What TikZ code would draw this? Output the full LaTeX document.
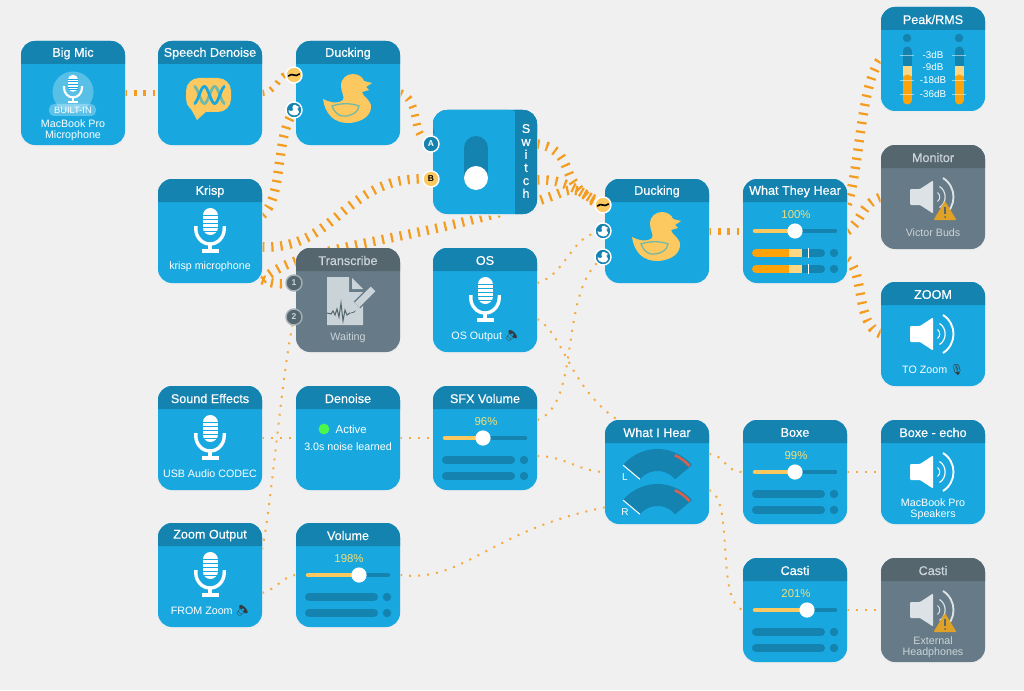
\documentclass[tikz,border=0pt]{standalone}
\usepackage{fontspec}
\setmainfont{Liberation Sans}
\newfontfamily\emojifont{Noto Emoji}
\newfontfamily\titlefont[FakeBold=0.5]{Liberation Sans}
\usetikzlibrary{calc}
\definecolor{pagebg}{HTML}{F0F0F0}
\definecolor{blueBody}{HTML}{18A8DF}
\definecolor{blueHead}{HTML}{1583B0}
\definecolor{greyBody}{HTML}{667B87}
\definecolor{greyHead}{HTML}{55666F}
\definecolor{tick}{HTML}{F39C1F}
\definecolor{yel}{HTML}{FBC95F}
\definecolor{pct}{HTML}{F3DE7A}
\definecolor{wingc}{HTML}{74B8A6}
\definecolor{orng}{HTML}{FFA30A}
\definecolor{lyel}{HTML}{FCD784}
\definecolor{greyIcon}{HTML}{DCE2E5}
\definecolor{greyText}{HTML}{CCD4D9}
\definecolor{warnc}{HTML}{DFA126}
\definecolor{gaugered}{HTML}{D9604C}
\pgfdeclarelayer{bglayer}
\pgfdeclarelayer{linklayer}
\pgfsetlayers{bglayer,linklayer,main}
\tikzset{
  cardbody/.style={shape=rectangle,minimum size=104pt,inner sep=0pt,rounded corners=14pt},
  bluetitle/.style={text=white,font=\titlefont\fontsize{12.6}{15}\selectfont,inner sep=0pt,anchor=center},
  greytitle/.style={bluetitle,text=greyText},
  lab/.style={text=white,font=\fontsize{10.7}{11}\selectfont,inner sep=0pt,align=center,anchor=center},
  greylab/.style={lab,text=greyText},
  pctlab/.style={lab,text=pct,font=\fontsize{11.4}{12}\selectfont},
  portnode/.style={shape=circle,minimum size=16pt,inner sep=0pt,draw=white,line width=1.4pt,font=\bfseries\fontsize{8.5}{9}\selectfont},
  thicklink/.style={draw=tick,line width=9.5pt,dash pattern=on 2.2pt off 6.9pt},
  midlink/.style={draw=tick,line width=6pt,dash pattern=on 2.2pt off 6.9pt},
  dotlink/.style={draw=tick!85!white,line width=2pt,dash pattern=on 2pt off 7pt},
  barline/.style={line width=8pt,line cap=round,draw=blueHead}
}
% name x y title kind(blue/grey) content
\newcommand{\card}[6]{%
  \fill[black!7,rounded corners=14pt] (#2-0.5,#3+1) rectangle (#2+104.5,#3+105.5);
  \node[cardbody,fill=#5Body] (#1) at (#2+52,#3+52) {};
  \fill[#5Head] (#2,#3+23) [rounded corners=14pt] -- (#2,#3) -- (#2+104,#3) [sharp corners] -- (#2+104,#3+23) -- cycle;
  \node[#5title] (#1-title) at (#2+52,#3+12.5) {#4};
  \begin{scope}[shift={(#2,#3)}]#6\end{scope}%
}
\newcommand{\mic}[4]{% cx cy scale stripe
  \begin{scope}[shift={(#1,#2)},scale=#3]
    \draw[white,line width=15pt*#3,line cap=round] (0,-13.5) -- (0,-1.5);
    \foreach \yy in {-14,-10,-6,-2,2} {\draw[#4,line width=0.7pt*#3] (-7.5,\yy) -- (7.5,\yy);}
    \draw[white,line width=3.4pt*#3] (-14.2,-3) -- (-14.2,0) .. controls (-14.2,8) and (-8,15) .. (0,15) .. controls (8,15) and (14.2,8) .. (14.2,0) -- (14.2,-3);
    \draw[white,line width=3.4pt*#3] (0,14) -- (0,21);
    \draw[white,line width=3.4pt*#3] (-8.5,22) -- (8.5,22);
  \end{scope}}
\newcommand{\speaker}[3]{% cx cy colour
  \begin{scope}[shift={(#1,#2)}]
    \fill[#3,rounded corners=1pt] (-23,-8) -- (-13,-8) -- (0,-16.5) -- (0,16.5) -- (-13,8) -- (-23,8) -- cycle;
    \draw[#3,line width=1.9pt] (10,-19) .. controls (24,-10) and (24,10) .. (10,19);
    \draw[#3,line width=1.2pt] (6.5,-10.5) .. controls (14,-6) and (14,6) .. (6.5,10.5);
    \draw[#3,line width=1pt] (4.5,-4.5) .. controls (7.5,-2) and (7.5,2) .. (4.5,4.5);
  \end{scope}}
\newcommand{\warntri}[2]{%
  \begin{scope}[shift={(#1,#2)}]
    \fill[warnc,rounded corners=1pt] (0,-10) -- (11.5,9) -- (-11.5,9) -- cycle;
    \draw[greyHead,line width=1.4pt] (0,-4) -- (0,3);
    \fill[greyHead] (0,6) circle[radius=1];
  \end{scope}}
\newcommand{\duck}[4]{% cx cy scale colour
  \begin{scope}[shift={(#1,#2)},scale=#3]
    \fill[#4] (-25,1) .. controls (-17,5) and (-9,6) .. (-5,2)
      .. controls (-3,-1) and (-7,-6) .. (-7,-12)
      .. controls (-7,-20) and (-1,-24) .. (5,-24)
      .. controls (10,-24) and (15,-21) .. (16,-17)
      -- (24,-15) -- (18,-11) -- (21,-8) -- (14,-6)
      .. controls (14,-2) and (24,2) .. (23,10)
      .. controls (22,20) and (10,25) .. (0,25)
      .. controls (-14,25) and (-23,16) .. (-25,1) -- cycle;
  \end{scope}}
\newcommand{\wing}[3]{%
  \begin{scope}[shift={(#1,#2)},scale=#3]
    \draw[wingc,line width=1.3pt] (-16,8) .. controls (-8,5) and (4,5) .. (11,8)
      .. controls (11,14) and (2,19) .. (-6,18) .. controls (-11,17) and (-14,13) .. (-16,8) -- cycle;
  \end{scope}}
\newcommand{\sliderbox}[3]{% name pct thumb
  \node[pctlab] (#1-pct) at (53,36) {#2};
  \draw[blueHead,line width=4.6pt,line cap=round] (12,52) -- (92,52);
  \draw[yel,line width=4.6pt,line cap=round] (12,52) -- (#3,52);
  \fill[white] (#3,52) circle[radius=7.6];
}
\newcommand{\plainbars}{%
  \draw[barline] (13,74) -- (78,74); \fill[blueHead] (91,74) circle[radius=4.2];
  \draw[barline] (13,90) -- (78,90); \fill[blueHead] (91,90) circle[radius=4.2];
}
\newcommand{\portA}[4]{\node[portnode,fill=blueHead] (#1) at (#2,#3) {}; \duck{#2}{#3}{0.22}{white}}
\newcommand{\portW}[3]{\node[portnode,fill=yel] (#1) at (#2,#3) {};
  \draw[black,line width=1.6pt,line cap=round] (#2-5.5,#3+1) .. controls (#2-2,#3-3) and (#2+1,#3+3) .. (#2+5.5,#3-1);}
\newcommand{\gauge}[2]{% cy letter
  \fill[blueHead] (52.5,#1) ++(-140:45) arc[start angle=-140,end angle=-40,radius=45] -- ($(52.5,#1)+(-40:23)$) arc[start angle=-40,end angle=-140,radius=23] -- cycle;
  \draw[gaugered,line width=2.6pt] (52.5,#1) ++(-66:42.5) arc[start angle=-66,end angle=-41,radius=42.5];
  \draw[white,line width=1pt] ($(52.5,#1)+(-140:45)$) -- ($(52.5,#1)+(-140:23)$);
}
\begin{document}
\begin{tikzpicture}[x=1pt,y=-1pt]
\useasboundingbox (0,0) rectangle (1024,690);
\begin{pgfonlayer}{bglayer}\fill[pagebg] (0,0) rectangle (1024,690);\end{pgfonlayer}

% ---------- cards ----------
\card{bigmic}{21}{41}{Big Mic}{blue}{%
  \fill[white,opacity=.28] (52,51) circle[radius=20.5];
  \mic{52}{47}{0.63}{blueBody}
  \fill[white,opacity=.3,rounded corners=5pt] (28,63) rectangle (75,75);
  \node[lab,font=\fontsize{9.3}{10}\selectfont] (bigmic-pill) at (52,69.5) {BUILT-IN};
  \node[lab] (bigmic-label) at (52,89) {MacBook Pro\\Microphone};
}
\card{speech}{158}{41}{Speech Denoise}{blue}{%
  \fill[yel,rounded corners=13pt] (28,37) rectangle (73,71);
  \fill[yel] (33,68) -- (39,79) -- (50,69) -- cycle;
  \draw[wingc,line width=2.8pt] plot[domain=0:540,samples=50,smooth] ({36+\x/540*31},{54-8.5*cos(\x)});
  \draw[blueBody,line width=2.8pt] plot[domain=0:540,samples=50,smooth] ({36+\x/540*31},{54+8.5*cos(\x)});
}
\card{duckone}{296}{41}{Ducking}{blue}{%
  \duck{52}{57}{1}{yel}\wing{52}{57}{1}
}
\card{krisp}{158}{179}{Krisp}{blue}{%
  \mic{52}{50}{1}{blueBody}
  \node[lab] (krisp-label) at (52,88) {krisp microphone};
}
\card{transcribe}{296}{248}{Transcribe}{grey}{%
  \fill[greyIcon!85!greyBody] (31,29) -- (53,29) -- (53,44) -- (67,44) -- (67,77) -- (31,77) -- cycle;
  \fill[greyIcon!85!greyBody] (56,30) -- (67,41) -- (56,41) -- cycle;
  \draw[greyHead,line width=1pt] (31,65) -- (35,66) -- (37,63) -- (39,67) -- (41,61) -- (43,69) -- (45,55) -- (47,73) -- (49,62) -- (51,67) -- (54,65) -- (58,64) -- (61,60);
  \draw[greyBody,line width=9.5pt] (77,41) -- (61,57);
  \draw[greyIcon!85!greyBody,line width=6.5pt] (77,41) -- (61,57);
  \fill[greyIcon!85!greyBody] (58,56) -- (63,61) -- (54,65) -- cycle;
  \node[greylab] (transcribe-label) at (52,90) {Waiting};
}
\card{os}{433}{248}{OS}{blue}{%
  \mic{52}{50}{1}{blueBody}
  \node[lab] (os-label) at (52,88) {OS Output {\emojifont\textcolor{greyHead!60!black}{🔈}}};
}
\card{switch}{433}{110}{}{blue}{%
  \fill[blueBody,rounded corners=14pt] (0,0) rectangle (90,30);
  \fill[blueHead] (82,104) [rounded corners=14pt] -- (104,104) -- (104,0) [sharp corners] -- (82,0) -- cycle;
  \node[lab,font=\titlefont\fontsize{12.6}{13}\selectfont] (switch-label) at (93,51) {S\\w\\i\\t\\c\\h};
  \draw[blueHead,line width=24pt,line cap=round] (43,38) -- (43,68);
  \fill[white] (43,68) circle[radius=12];
}
\card{ducktwo}{605}{179}{Ducking}{blue}{%
  \duck{52}{57}{1}{yel}\wing{52}{57}{1}
}
\card{wth}{743}{179}{What They Hear}{blue}{%
  \sliderbox{wth}{100\%}{52}
  \draw[barline] (13,74) -- (78,74); \fill[blueHead] (91,74) circle[radius=4.2];
  \draw[barline] (13,90) -- (78,90); \fill[blueHead] (91,90) circle[radius=4.2];
  \foreach \yy in {74,90} {
    \draw[orng,line width=8pt,line cap=round] (13,\yy) -- (42,\yy);
    \fill[lyel] (46,\yy-4) rectangle (59,\yy+4);
    \fill[orng] (40,\yy-4) rectangle (46,\yy+4);
    \draw[white,line width=1pt] (65,\yy-5) -- (65,\yy+5);
  }
}
\card{peak}{881}{7}{Peak/RMS}{blue}{%
  \foreach \cx in {26,78} {
    \fill[blueHead] (\cx,31) circle[radius=4.2];
    \draw[blueHead,line width=9pt,line cap=round] (\cx,44) -- (\cx,60);
    \fill[lyel] (\cx-4.5,59) rectangle (\cx+4.5,70);
    \draw[orng,line width=9pt,line cap=round] (\cx,72) -- (\cx,93);
    \fill[orng] (\cx-4.5,69) rectangle (\cx+4.5,80);
    \foreach \yy in {48,73,87} {\draw[white,opacity=.5,line width=.6pt] (\cx-7,\yy) -- (\cx+7,\yy);}
  }
  \node[lab,font=\fontsize{9.8}{10}\selectfont] (peak-a) at (52,48) {-3dB};
  \node[lab,font=\fontsize{9.8}{10}\selectfont] (peak-b) at (52,60) {-9dB};
  \node[lab,font=\fontsize{9.8}{10}\selectfont] (peak-c) at (52,73) {-18dB};
  \node[lab,font=\fontsize{9.8}{10}\selectfont] (peak-d) at (52,87) {-36dB};
}
\card{monitor}{881}{145}{Monitor}{grey}{%
  \speaker{52}{52}{greyIcon}
  \warntri{64}{66}
  \node[greylab] (monitor-label) at (52,88) {Victor Buds};
}
\card{zoom}{881}{282}{ZOOM}{blue}{%
  \speaker{52}{52}{white}
  \node[lab] (zoom-label) at (52,88) {TO Zoom {\emojifont\textcolor{greyHead!60!black}{🎙}}};
}
\card{sound}{158}{386}{Sound Effects}{blue}{%
  \mic{52}{50}{1}{blueBody}
  \node[lab] (sound-label) at (52,88) {USB Audio CODEC};
}
\card{denoise}{296}{386}{Denoise}{blue}{%
  \fill[green!95!black!70!white] (28,43) circle[radius=5.4];
  \node[lab,anchor=west,font=\fontsize{11.4}{12}\selectfont] (denoise-state) at (39.5,43) {Active};
  \node[lab] (denoise-label) at (52,61) {3.0s noise learned};
}
\card{sfx}{433}{386}{SFX Volume}{blue}{%
  \sliderbox{sfx}{96\%}{50}\plainbars
}
\card{zoomout}{158}{523}{Zoom Output}{blue}{%
  \mic{52}{50}{1}{blueBody}
  \node[lab] (zoomout-label) at (52,88) {FROM Zoom {\emojifont\textcolor{greyHead!60!black}{🔈}}};
}
\card{volume}{296}{523}{Volume}{blue}{%
  \sliderbox{volume}{198\%}{63}\plainbars
}
\card{hear}{605}{420}{What I Hear}{blue}{%
  \gauge{74}{L}\gauge{109}{R}
  \node[lab,font=\fontsize{10}{10}\selectfont] (hear-l) at (20,57.5) {L};
  \node[lab,font=\fontsize{10}{10}\selectfont] (hear-r) at (20,92) {R};
}
\card{boxe}{743}{420}{Boxe}{blue}{%
  \sliderbox{boxe}{99\%}{52}\plainbars
}
\card{echo}{881}{420}{Boxe - echo}{blue}{%
  \speaker{52}{52}{white}
  \node[lab] (echo-label) at (52,89) {MacBook Pro\\Speakers};
}
\card{casti}{743}{558}{Casti}{blue}{%
  \sliderbox{casti}{201\%}{64}\plainbars
}
\card{castigrey}{881}{558}{Casti}{grey}{%
  \speaker{52}{52}{greyIcon}
  \warntri{64}{65}
  \node[greylab] (castigrey-label) at (52,89) {External\\Headphones};
}

% ---------- ports ----------
\portW{duckW}{294}{75}
\portA{duckD}{294}{110}{}
\node[portnode,fill=blueHead,text=white] (switchA) at (431,144) {A};
\node[portnode,fill=yel,text=black] (switchB) at (431,179) {B};
\portW{twoW}{603}{205}
\portA{twoA}{603}{231}{}
\portA{twoB}{603}{257}{}
\node[portnode,fill=greyHead,draw=greyBody!60!white,text=greyText] (transA) at (294,283) {1};
\node[portnode,fill=greyHead,draw=greyBody!60!white,text=greyText] (transB) at (294,317) {2};

% ---------- connectors ----------
\begin{pgfonlayer}{linklayer}
\draw[midlink] (bigmic.east) -- (speech.west);
\draw[midlink] (speech.east) .. controls (275,93) and (280,75) .. (duckW);
\draw[thicklink] (krisp.17) .. controls (282,200) and (276,145) .. (duckD);
\draw[midlink,line width=8pt] (duckone.east) .. controls (420,100) and (412,130) .. (switchA);
\draw[thicklink] (krisp.-17) .. controls (335,250) and (345,178) .. (switchB);
\draw[thicklink] (krisp.-43) .. controls (285,260) and (320,252) .. (400,236) .. controls (470,222) and (530,205) .. (560,193) .. controls (575,186) and (582,192) .. (twoW);
\draw[thicklink] (krisp.-43) .. controls (272,284) and (280,284) .. (transA);
\draw[thicklink] (switch.19) .. controls (565,148) and (565,168) .. (572,180) .. controls (578,190) and (590,200) .. (twoW);
\draw[thicklink] (switch.-19) .. controls (565,178) and (585,195) .. (twoW);
\draw[midlink,line width=7pt] (ducktwo.east) -- (wth.west);
\draw[thicklink] (wth.27) .. controls (860,170) and (860,85) .. (peak.west);
\draw[thicklink] (wth.0) .. controls (862,222) and (860,205) .. (monitor.west);
\draw[thicklink] (wth.-29) .. controls (865,270) and (855,325) .. (zoom.west);
\draw[dotlink] (sound.east) -- (denoise.west);
\draw[dotlink] (denoise.east) -- (sfx.west);
\draw[dotlink] (zoomout.26) .. controls (272,500) and (280,390) .. (transB);
\draw[dotlink] (zoomout.-19) .. controls (275,590) and (285,575) .. (volume.west);
\draw[dotlink] (volume.east) .. controls (480,585) and (500,500) .. (hear.-26);
\draw[dotlink] (os.18) .. controls (565,275) and (570,240) .. (twoA);
\draw[dotlink] (os.-20) .. controls (575,340) and (570,440) .. (hear.26);
\draw[dotlink] (sfx.19) .. controls (580,405) and (560,300) .. (twoB);
\draw[dotlink] (sfx.-19) .. controls (565,456) and (580,472) .. (hear.west);
\draw[dotlink] (hear.19) .. controls (725,455) and (725,472) .. (boxe.west);
\draw[dotlink] (hear.-19) .. controls (735,500) and (715,600) .. (casti.west);
\draw[dotlink] (boxe.east) -- (echo.west);
\draw[dotlink] (casti.east) -- (castigrey.west);
\end{pgfonlayer}
\end{tikzpicture}
\end{document}
